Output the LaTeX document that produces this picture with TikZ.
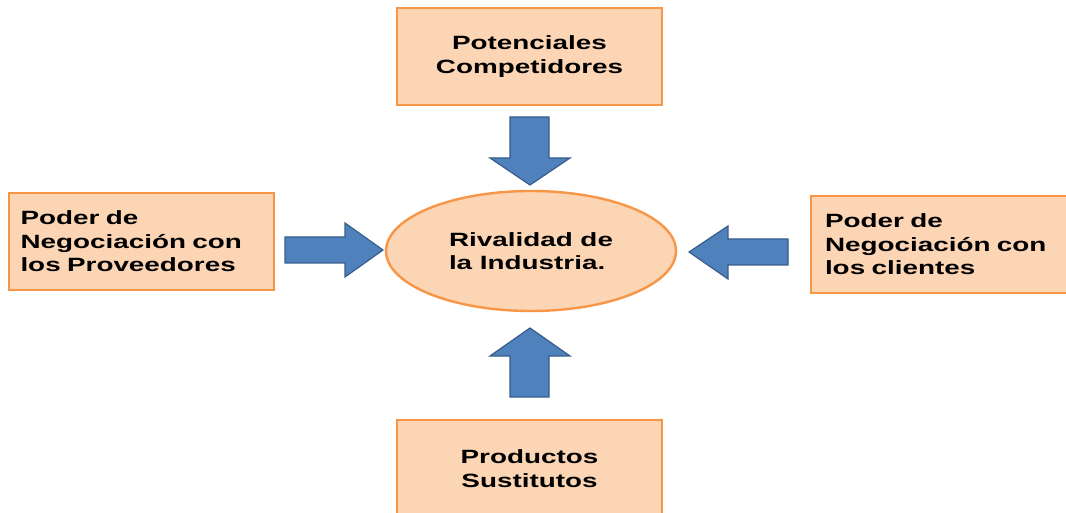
\documentclass[tikz,border=0pt]{standalone}
\usepackage{fontspec}
\setmainfont{Liberation Sans}[FakeStretch=1.45]
\usepackage{tikz}
\usetikzlibrary{shapes.geometric}
\definecolor{naranja}{RGB}{247, 150, 70}
\definecolor{durazno}{RGB}{252, 213, 181}
\definecolor{azul}{RGB}{79, 129, 189}
\definecolor{azuloscuro}{RGB}{56, 93, 138}

\tikzset{
  fuerza/.style={draw=naranja, fill=durazno, line width=2.4pt,
    minimum width=265, minimum height=97,
    font=\bfseries\fontsize{19.2}{23.5}\selectfont, align=center},
  flecha/.style={draw=azuloscuro, fill=azul, line width=1.2pt, line join=miter}
}

\begin{document}
\begin{tikzpicture}[x=1pt, y=-1pt]
  \useasboundingbox (0, 0) rectangle (1066, 513);

  % las cinco fuerzas
  \node[fuerza] (competidores) at (529.5, 56.5) {Potenciales\\Competidores};
  \node[fuerza, align=left, text width=242] (proveedores) at (141.5, 241.5)
    {Poder de\\Negociación con\\los Proveedores};
  \node[fuerza, align=left, text width=237] (clientes) at (943.5, 244.5)
    {Poder de\\Negociación con\\los clientes};
  \node[fuerza] (sustitutos) at (529.5, 468.5) {Productos\\Sustitutos};

  \node[fuerza, ellipse, minimum width=290, minimum height=120, align=left]
    (rivalidad) at (531, 251) {Rivalidad de\\la Industria.};

  % flechas de bloque hacia el centro
  \draw[flecha] (510, 117) -- (549, 117) -- (549, 158) -- (570, 158)
    -- (530, 185) -- (490, 158) -- (510, 158) -- cycle;
  \draw[flecha] (510, 397) -- (549, 397) -- (549, 356) -- (570, 356)
    -- (530, 328) -- (490, 356) -- (510, 356) -- cycle;
  \draw[flecha] (285, 237) -- (345, 237) -- (345, 223) -- (383, 250)
    -- (345, 277) -- (345, 263) -- (285, 263) -- cycle;
  \draw[flecha] (788, 239) -- (728, 239) -- (728, 226) -- (689, 252)
    -- (728, 279) -- (728, 265) -- (788, 265) -- cycle;
\end{tikzpicture}
\end{document}
